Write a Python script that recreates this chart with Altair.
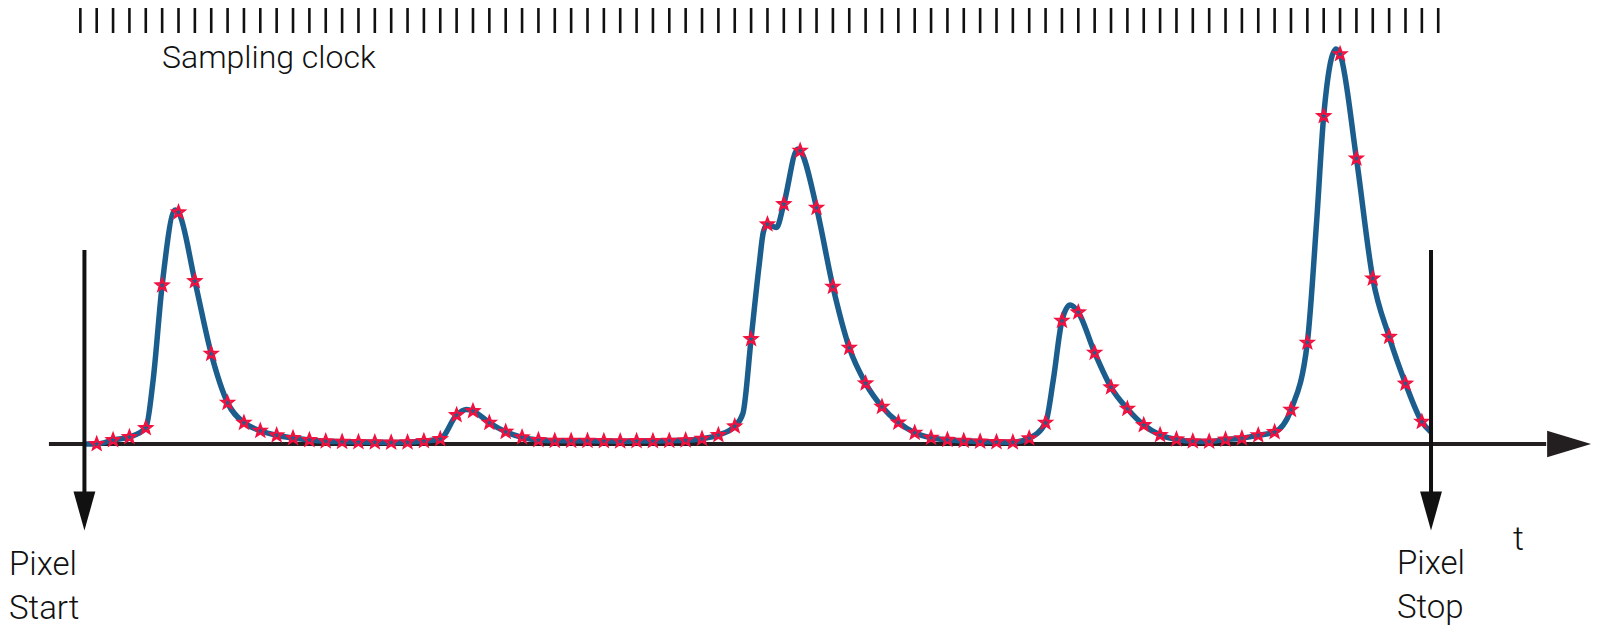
import altair as alt
import pandas as pd

# ---------------- data ----------------
# sampling clock: one tick per sample period (time in sample units)
clock_ticks = list(range(0, 84))

# sampled values (stars), one per clock tick, sample index 1..82
sample_index = list(range(1, 83))
sample_value = [
    0, 4, 7, 16, 158.7, 231.7, 163, 90.3, 41.3, 21.3,
    13.3, 8.7, 6, 4, 2.7, 2.3, 2, 1.7, 1.5, 1.8,
    3, 5, 29, 33, 21.3, 12.3, 6.7, 4, 3.3, 3.3,
    3.3, 3, 2.7, 3, 3, 3.3, 3.7, 5.3, 9, 17.7,
    105, 219.7, 240, 293.3, 236.3, 157.3, 96.3, 60.7, 37.3, 21.6,
    11.3, 6.3, 4.2, 3.2, 2.5, 2, 1.8, 5.7, 21.3, 123.3,
    131.7, 91.3, 56.7, 35.3, 19, 9, 4.7, 2.7, 2.5, 4.5,
    5.8, 8.8, 12, 34.3, 101.4, 328, 389.9, 285.6, 165.6, 107.2,
    60.5, 22.3,
]

# extra points of the continuous signal between samples (peaks, shoulders, ends)
curve_extra_t = [0.35, 4.45, 5.8, 23.6, 40.5, 41.5, 41.75, 42.55, 43.85,
                 59.47, 60.5, 75.57, 76.75, 82.55]
curve_extra_v = [0, 64, 234, 34.5, 30.7, 180, 212, 216.5, 295,
                 64, 139, 223, 395, 12]

# pixel gate positions (time in sample units)
gate_t = [0.25, 82.56]

# ---------------- tables ----------------
samples = pd.DataFrame({"t": [float(i) for i in sample_index], "v": sample_value})
curve = pd.DataFrame({
    "t": [float(i) for i in sample_index] + curve_extra_t,
    "v": sample_value + curve_extra_v,
}).sort_values("t").reset_index(drop=True)
ticks = pd.DataFrame({"t": [float(i) for i in clock_ticks]})
gates = pd.DataFrame({
    "t": gate_t,
    "top": [194.0] * len(gate_t),
    "bot": [-52.0] * len(gate_t),
    "hd": [-67.0] * len(gate_t),
})
axis_df = pd.DataFrame({"t": [-1.92], "t2": [89.6], "v": [0.0], "th": [91.0]})
one = pd.DataFrame({"k": [0]})

W, H = 1584, 618
xs = alt.Scale(domain=[-4.4218, 92.40], nice=False, zero=False)
ys = alt.Scale(domain=[-182, 436], nice=False, zero=False)


def X(f):
    return alt.X(f, type="quantitative", scale=xs, axis=None)


def Y(f):
    return alt.Y(f, type="quantitative", scale=ys, axis=None)


INK = "#231f20"
BLUE = "#1b5e8d"
RED = "#f2103f"
FONT = "Roboto"

STAR = ("M0,-1L0.247,-0.34L0.951,-0.309L0.399,0.13L0.588,0.809L0,0.42"
        "L-0.588,0.809L-0.399,0.13L-0.951,-0.309L-0.247,-0.34Z")

clock = alt.Chart(ticks).mark_rule(color="#111111", strokeWidth=2.6).encode(
    x=X("t"), y=alt.value(0), y2=alt.value(25)
)

time_axis = alt.Chart(axis_df).mark_rule(color=INK, strokeWidth=4).encode(
    x=X("t"), x2="t2", y=Y("v")
)
time_head = alt.Chart(axis_df).mark_point(
    shape="M-1,-0.6L1,0L-1,0.6Z", size=1936, filled=True, fill=INK,
    strokeWidth=0, opacity=1
).encode(x=X("th"), y=Y("v"))

signal = alt.Chart(curve).mark_line(
    color=BLUE, strokeWidth=5.5, interpolate="monotone"
).encode(x=X("t"), y=Y("v"), order="t:Q")

stars = alt.Chart(samples).mark_point(
    shape=STAR, size=150, filled=False, color=RED, strokeWidth=2.2, opacity=1
).encode(x=X("t"), y=Y("v"))

gate_shaft = alt.Chart(gates).mark_rule(color="#111111", strokeWidth=4).encode(
    x=X("t"), y=Y("top"), y2="bot"
)
gate_head = alt.Chart(gates).mark_point(
    shape="M-0.56,-1L0.56,-1L0,1Z", size=1521, filled=True, fill="#111111",
    strokeWidth=0, opacity=1
).encode(x=X("t"), y=Y("hd"))


def label(text, x, y, size=33):
    return alt.Chart(one).mark_text(
        text=text, align="left", baseline="alphabetic", font=FONT,
        fontSize=size, fontWeight=300, color="#111111", lineHeight=44
    ).encode(x=alt.value(x), y=alt.value(y))


texts = [
    label("Sampling clock", 154, 60, 32),
    label(["Pixel", "Start"], 1, 567),
    label(["Pixel", "Stop"], 1389, 566),
    label("t", 1505, 542, 34),
]

chart = alt.layer(
    clock, time_axis, time_head, signal, stars, gate_shaft, gate_head, *texts
).properties(
    width=W, height=H, padding=0, autosize=alt.AutoSizeParams(type="none")
).configure_view(strokeWidth=0)

chart.save("out.html", embed_options={"renderer": "svg", "actions": False})
